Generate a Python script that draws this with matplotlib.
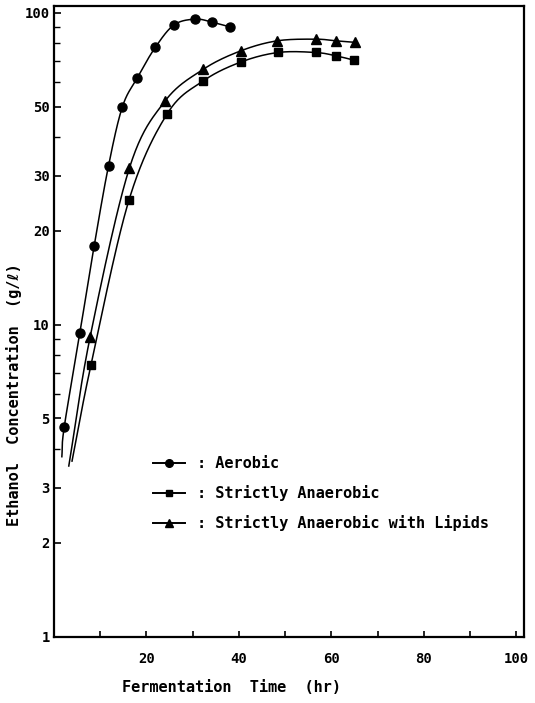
import numpy as np
import matplotlib
matplotlib.use("Agg")
import matplotlib.pyplot as plt
from matplotlib.lines import Line2D
from matplotlib.ticker import FixedLocator, NullFormatter

plt.rcParams['font.family'] = ['DejaVu Sans Mono', 'DejaVu Sans']
plt.rcParams['font.weight'] = 'bold'

# ---- data --------------------------------------------------------------------
# aerobic (circles)
aer_t = [2.2, 5.6, 8.7, 11.8, 14.8, 18.0, 21.9, 26.0, 30.6, 34.2, 38.1]
aer_c = [4.68, 9.4, 17.9, 32.3, 49.9, 61.7, 77.3, 91.4, 95.3, 93.2, 90.0]
# strictly anaerobic (squares)
ana_t = [8.0, 16.2, 24.5, 32.3, 40.4, 48.5, 56.6, 61.0, 64.9]
ana_c = [7.42, 25.0, 47.4, 60.4, 69.4, 74.5, 74.5, 72.7, 70.4]
# strictly anaerobic with lipids (triangles)
lip_t = [7.8, 16.3, 24.0, 32.3, 40.4, 48.3, 56.6, 61.0, 65.1]
lip_c = [9.1, 31.7, 52.0, 65.8, 75.4, 81.2, 82.2, 81.2, 80.3]
# where the drawn curves begin (below the first marker)
aer_start = (1.7, 3.77)
ana_start = (3.9, 3.65)
lip_start = (3.2, 3.52)

labels = [": Aerobic", ": Strictly Anaerobic", ": Strictly Anaerobic with Lipids"]
yticks = [1, 2, 3, 5, 10, 20, 30, 50, 100]
xticks = [20, 40, 60, 80, 100]


def smooth(x, y, n=24):
    """Catmull-Rom curve through the points, in log-y space."""
    x = np.asarray(x, float)
    ly = np.log10(np.asarray(y, float))
    px = np.concatenate([[2 * x[0] - x[1]], x, [2 * x[-1] - x[-2]]])
    py = np.concatenate([[2 * ly[0] - ly[1]], ly, [2 * ly[-1] - ly[-2]]])
    t = np.linspace(0, 1, n, endpoint=False)
    xs, ys = [], []
    for i in range(1, len(px) - 2):
        for arr, out in ((px, xs), (py, ys)):
            p0, p1, p2, p3 = arr[i - 1:i + 3]
            out.append(0.5 * (2 * p1 + (-p0 + p2) * t
                              + (2 * p0 - 5 * p1 + 4 * p2 - p3) * t ** 2
                              + (-p0 + 3 * p1 - 3 * p2 + p3) * t ** 3))
    xs.append([x[-1]]); ys.append([ly[-1]])
    return np.concatenate(xs), 10 ** np.concatenate(ys)


fig = plt.figure(figsize=(5.35, 7.03), dpi=100)
ax = fig.add_axes([54 / 535, 1 - 636.5 / 703, 470 / 535, 630.5 / 703])
ax.set_yscale("log")
ax.set_xlim(0, 101.7)
ax.set_ylim(1, 105)

series = [
    (aer_t, aer_c, aer_start, "o", 6.5),
    (ana_t, ana_c, ana_start, "s", 6.0),
    (lip_t, lip_c, lip_start, "^", 7.0),
]
handles = []
for (t, c, st, mk, ms), lab in zip(series, labels):
    cx, cy = smooth([st[0]] + list(t), [st[1]] + list(c))
    ax.plot(cx, cy, color="black", lw=1.1, zorder=2)
    ax.plot(t, c, ls="none", marker=mk, ms=ms, color="black", zorder=3)
    handles.append(Line2D([0], [0], color="black", lw=1.4, marker=mk,
                          ms=ms - 1, label=lab))

ax.legend(handles=handles, loc="upper left", bbox_to_anchor=(0.21, 0.286),
          frameon=False, fontsize=11, handlelength=2.1, handletextpad=0.8,
          labelspacing=0.92, borderpad=0, borderaxespad=0)

# ticks
ax.yaxis.set_major_locator(FixedLocator(yticks))
ax.set_yticklabels([str(v) for v in yticks])
ax.yaxis.set_minor_locator(FixedLocator([4, 6, 7, 8, 9, 40, 60, 70, 80, 90]))
ax.yaxis.set_minor_formatter(NullFormatter())
ax.xaxis.set_major_locator(FixedLocator(xticks))
ax.set_xticklabels([str(v) for v in xticks])
ax.xaxis.set_minor_locator(FixedLocator([10, 30, 50, 70, 90]))
ax.tick_params(axis="y", which="major", direction="in", length=5, width=1.2,
               labelsize=10, pad=3)
ax.tick_params(axis="y", which="minor", direction="in", length=4, width=1.0)
ax.tick_params(axis="x", which="both", direction="in", length=4.5, width=1.2,
               labelsize=10, pad=11)
for s in ax.spines.values():
    s.set_linewidth(1.6)

fig.text(231 / 535, 1 - 687 / 703, "Fermentation  Time  (hr)", fontsize=11,
         ha="center", va="center")
fig.text(14 / 535, 1 - 395 / 703, "Ethanol  Concentration  (g/\u2113)",
         fontsize=11, ha="center", va="center", rotation=90)

fig.savefig("out.png", dpi=100)
